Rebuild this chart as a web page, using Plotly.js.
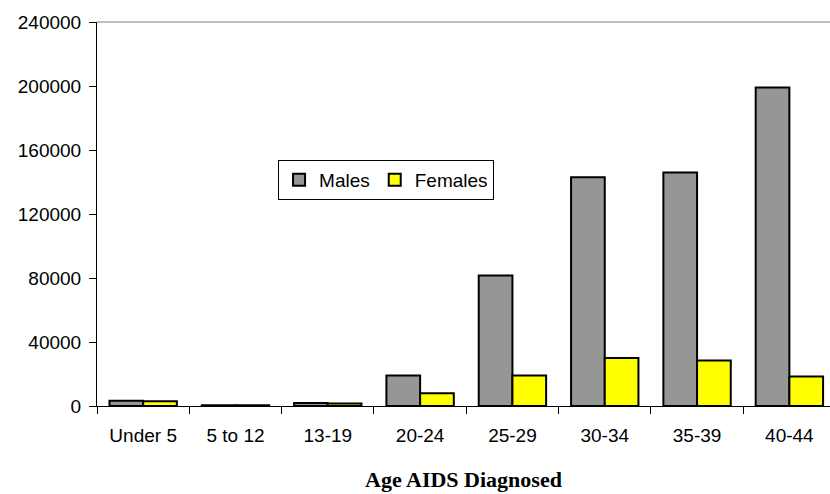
<!DOCTYPE html>
<html>
<head>
<meta charset="utf-8">
<script src="https://cdn.plot.ly/plotly-3.0.1.min.js"></script>
<style>html,body{margin:0;padding:0;background:#fff;}#chart{width:830px;height:494px;}</style>
</head>
<body>
<div id="chart"></div>
<script>
const categories = ["Under 5", "5 to 12", "13-19", "20-24", "25-29", "30-34", "35-39", "40-44"];
const males = [3300, 500, 1800, 19000, 81500, 143000, 146000, 199000];
const females = [3000, 400, 1500, 8000, 19000, 30000, 28500, 18500];
const yTicks = [0, 40000, 80000, 120000, 160000, 200000, 240000];

const traces = [
  {type: "bar", name: "Males", x: categories, y: males,
   marker: {color: "#969696", line: {color: "#000", width: 2}}},
  {type: "bar", name: "Females", x: categories, y: females,
   marker: {color: "#ffff00", line: {color: "#000", width: 2}}}
];

const layout = {
  width: 830, height: 494,
  margin: {l: 97, r: 0, t: 22, b: 88},
  paper_bgcolor: "#fff", plot_bgcolor: "#fff",
  font: {family: "Liberation Sans, Arial, sans-serif", size: 19, color: "#000"},
  barmode: "group", bargap: 0.27, bargroupgap: 0,
  showlegend: true,
  legend: {orientation: "h", x: 0.247, y: 0.641, xanchor: "left", yanchor: "top",
           bordercolor: "#000", borderwidth: 1, bgcolor: "#fff",
           font: {size: 19}, itemwidth: 30, tracegroupgap: 0},
  xaxis: {type: "category", range: [-0.5, 7.44], showline: true, linecolor: "#000", linewidth: 1,
          ticks: "outside", ticklen: 7, tickcolor: "#000", tickson: "boundaries",
          ticklabelstandoff: 12,
          showgrid: false, zeroline: false,
          tickfont: {size: 19},
          title: {text: "Age AIDS Diagnosed", standoff: 26,
                  font: {family: "Liberation Serif, Times New Roman, serif", size: 22, color: "#000", weight: "bold"}}},
  yaxis: {range: [0, 240000], tickvals: yTicks, ticktext: yTicks.map(String),
          showline: true, linecolor: "#000", linewidth: 1,
          ticks: "outside", ticklen: 7, tickcolor: "#000", ticklabelstandoff: 4,
          showgrid: false, zeroline: false, tickfont: {size: 19}},
  shapes: [{type: "line", xref: "paper", yref: "paper", x0: 0, x1: 1, y0: 1, y1: 1,
            line: {color: "#808080", width: 1}}]
};

Plotly.newPlot("chart", traces, layout, {displayModeBar: false, staticPlot: true});
</script>
</body>
</html>
